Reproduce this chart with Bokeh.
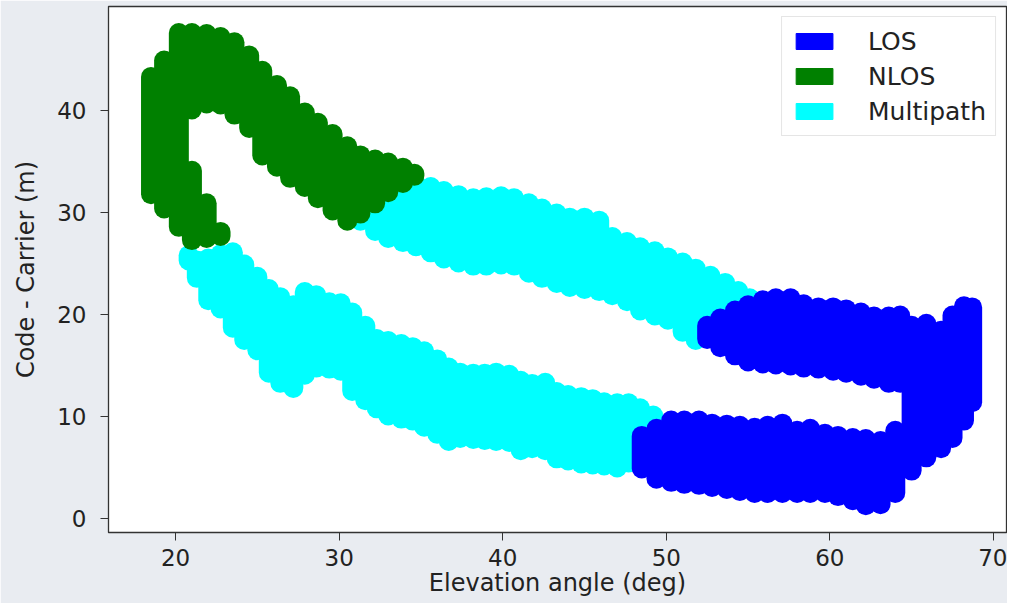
from bokeh.plotting import figure
from bokeh.models import Range1d, Legend, LegendItem
from bokeh.embed import file_html
from bokeh.resources import INLINE

# ---- data: per elevation column, lowest / highest code-carrier sample ----
# NLOS (green)
nlos_elev = [18.5, 19.3, 20.2, 21.0, 21.0, 21.9, 21.9, 22.75, 22.75, 23.6, 24.5, 25.3, 26.2,
             27.0, 27.9, 28.7, 29.6, 30.5, 31.3, 32.2, 33.0, 33.9, 34.6]
nlos_low = [31.8, 30.4, 28.6, 40.1, 27.3, 40.7, 27.5, 40.6, 27.7, 39.6, 38.3, 35.6, 34.5,
            33.4, 32.5, 31.4, 30.2, 29.2, 29.9, 30.9, 32.0, 32.9, 33.6]
nlos_high = [43.3, 44.9, 47.6, 47.6, 34.1, 47.5, 30.9, 47.2, 28.1, 46.7, 45.4, 43.9, 42.5,
             41.4, 39.8, 38.8, 37.7, 36.5, 35.6, 35.2, 34.9, 34.4, 33.8]

# Multipath (cyan) - upper arc
mp_up_elev = [31.3, 32.2, 33.0, 33.9, 34.7, 35.6, 36.4, 37.3, 38.2, 39.0, 39.9, 40.7, 41.6,
              42.4, 43.3, 44.1, 45.0, 45.9, 46.7, 47.6, 48.4, 49.3, 50.1, 51.0, 51.8, 52.7,
              53.6, 54.4, 55.1]
mp_up_low = [29.2, 28.2, 27.5, 27.1, 26.7, 26.1, 25.5, 25.1, 24.8, 24.8, 24.9, 24.8, 24.1,
             23.6, 23.1, 22.7, 22.5, 22.3, 21.9, 21.3, 20.4, 19.9, 19.5, 18.3, 17.5, 18.0,
             21.0, 21.5, 21.6]
mp_up_high = [32.0, 33.0, 32.6, 32.9, 32.8, 32.5, 32.1, 31.7, 31.4, 31.5, 31.6, 31.4, 30.9,
              30.4, 29.9, 29.5, 29.5, 29.2, 27.6, 27.1, 26.6, 26.2, 25.6, 25.1, 24.5, 23.8,
              23.1, 22.3, 21.6]
# Multipath (cyan) - lower arc
mp_lo_elev = [20.8, 21.3, 22.0, 22.75, 23.5, 24.2, 25.0, 25.7, 26.4, 27.2, 27.9, 28.6, 29.4,
              30.1, 30.8, 31.6, 32.3, 33.0, 33.8, 34.5, 35.2, 36.0, 36.7, 37.4, 38.2, 38.9,
              39.6, 40.4, 41.1, 41.8, 42.6, 43.3, 44.0, 44.8, 45.5, 46.2, 47.0, 47.7, 48.4,
              49.2]
mp_lo_low = [25.3, 23.6, 21.4, 20.6, 18.7, 17.5, 16.5, 14.3, 13.3, 12.8, 14.1, 14.8, 14.7,
             14.5, 12.5, 11.6, 10.8, 10.1, 9.8, 9.6, 9.0, 8.3, 7.6, 7.9, 7.8, 7.7,
             7.6, 7.5, 6.7, 6.9, 6.7, 5.9, 5.7, 5.4, 5.3, 5.2, 5.0, 5.5, 6.0,
             7.0]
mp_lo_high = [25.8, 25.3, 25.5, 25.9, 26.1, 24.9, 23.7, 22.5, 21.7, 20.9, 22.2, 21.9, 21.2,
              21.1, 20.2, 18.9, 17.6, 17.4, 17.1, 16.8, 16.4, 15.6, 14.8, 14.3, 14.2, 14.2,
              14.3, 14.1, 13.5, 13.2, 13.3, 12.4, 12.1, 11.9, 11.7, 11.4, 11.3, 11.3, 10.8,
              10.1]

# LOS (blue)
los_elev = [52.5, 53.3, 54.2, 55.0, 55.9, 56.7, 57.6, 58.4, 59.3, 60.2, 61.0, 61.9, 62.7,
            63.6, 64.3, 65.0, 65.9, 66.8, 67.5, 68.2, 68.7,
            48.5, 49.4, 50.3, 51.1, 52.0, 52.8, 53.7, 54.5, 55.4, 56.2, 57.1, 58.0, 58.8,
            59.7, 60.5, 61.4, 62.2, 63.1, 64.0]
los_low = [17.6, 16.8, 16.0, 15.4, 15.2, 15.1, 15.0, 14.8, 14.7, 14.5, 14.3, 14.0, 13.7,
           13.3, 13.3, 4.7, 6.0, 6.9, 7.9, 9.6, 11.4,
           4.9, 3.9, 3.6, 3.4, 3.3, 3.1, 2.9, 2.7, 2.5, 2.5, 2.5, 2.5, 2.5,
           2.5, 2.2, 1.8, 1.3, 1.4, 2.5]
los_high = [18.9, 19.6, 20.4, 20.9, 21.4, 21.6, 21.6, 21.0, 20.7, 20.7, 20.5, 20.2, 19.8,
            19.8, 19.9, 18.9, 19.1, 18.4, 19.9, 20.8, 20.7,
            8.1, 8.8, 9.6, 9.6, 9.6, 9.3, 9.2, 9.1, 8.9, 9.1, 9.3, 8.6, 8.8,
            8.3, 8.1, 7.9, 7.8, 7.6, 8.6]

x_ticks = [20, 30, 40, 50, 60, 70]
y_ticks = [0, 10, 20, 30, 40]
labels = ["LOS", "NLOS", "Multipath"]
colors = {"LOS": "#0000ff", "NLOS": "#008000", "Multipath": "#00ffff"}
x_title = "Elevation angle (deg)"
y_title = "Code - Carrier (m)"

FONT = "DejaVu Sans"
TXT = "#222222"
AX = "#333333"
NAN = float("nan")

p = figure(width=1007, height=603, output_backend="svg", toolbar_location=None,
           x_range=Range1d(15.9, 70.8), y_range=Range1d(-1.37, 50.2),
           min_border_left=108, min_border_right=1, min_border_top=6,
           min_border_bottom=71)
p.grid.visible = False
p.background_fill_color = "white"
p.border_fill_color = "#e9ecf1"
p.outline_line_color = AX
p.outline_line_width = 1.3

W = 20
p.segment(x0=mp_up_elev, y0=mp_up_low, x1=mp_up_elev, y1=mp_up_high,
          line_color=colors["Multipath"], line_width=W, line_cap="round")
p.segment(x0=mp_lo_elev, y0=mp_lo_low, x1=mp_lo_elev, y1=mp_lo_high,
          line_color=colors["Multipath"], line_width=W, line_cap="round")
p.segment(x0=nlos_elev, y0=nlos_low, x1=nlos_elev, y1=nlos_high,
          line_color=colors["NLOS"], line_width=W, line_cap="round")
p.segment(x0=los_elev, y0=los_low, x1=los_elev, y1=los_high,
          line_color=colors["LOS"], line_width=W, line_cap="round")

# legend swatches only (no visible data)
items = []
for lab in labels:
    r = p.quad(left=[NAN], right=[NAN], top=[NAN], bottom=[NAN],
               fill_color=colors[lab], line_color=colors[lab])
    items.append(LegendItem(label=lab, renderers=[r]))

legend = Legend(items=items, location="top_right")
legend.margin = 10
legend.padding = 9
legend.spacing = 5
legend.glyph_width = 46
legend.glyph_height = 20
legend.label_height = 30
legend.label_standoff = 31
legend.label_text_font = FONT
legend.label_text_font_size = "25px"
legend.label_text_color = TXT
legend.border_line_color = "#cccccc"
legend.border_line_width = 1
legend.background_fill_color = "white"
legend.background_fill_alpha = 1.0
p.add_layout(legend)

for ax in (p.xaxis, p.yaxis):
    ax.major_label_text_font = FONT
    ax.major_label_text_font_size = "23px"
    ax.major_label_text_color = TXT
    ax.axis_label_text_font = FONT
    ax.axis_label_text_font_size = "24px"
    ax.axis_label_text_font_style = "normal"
    ax.axis_label_text_color = TXT
    ax.axis_line_color = AX
    ax.major_tick_line_color = AX
    ax.major_tick_out = 8
    ax.major_tick_in = 0
    ax.minor_tick_out = 0
    ax.minor_tick_in = 0

p.xaxis.ticker = x_ticks
p.yaxis.ticker = y_ticks
p.xaxis.axis_label = x_title
p.yaxis.axis_label = y_title
p.xaxis.major_label_standoff = 8
p.yaxis.major_label_standoff = 14
p.xaxis.axis_label_standoff = 0
p.yaxis.axis_label_standoff = 14

open("out.html", "w").write(file_html(p, INLINE))
